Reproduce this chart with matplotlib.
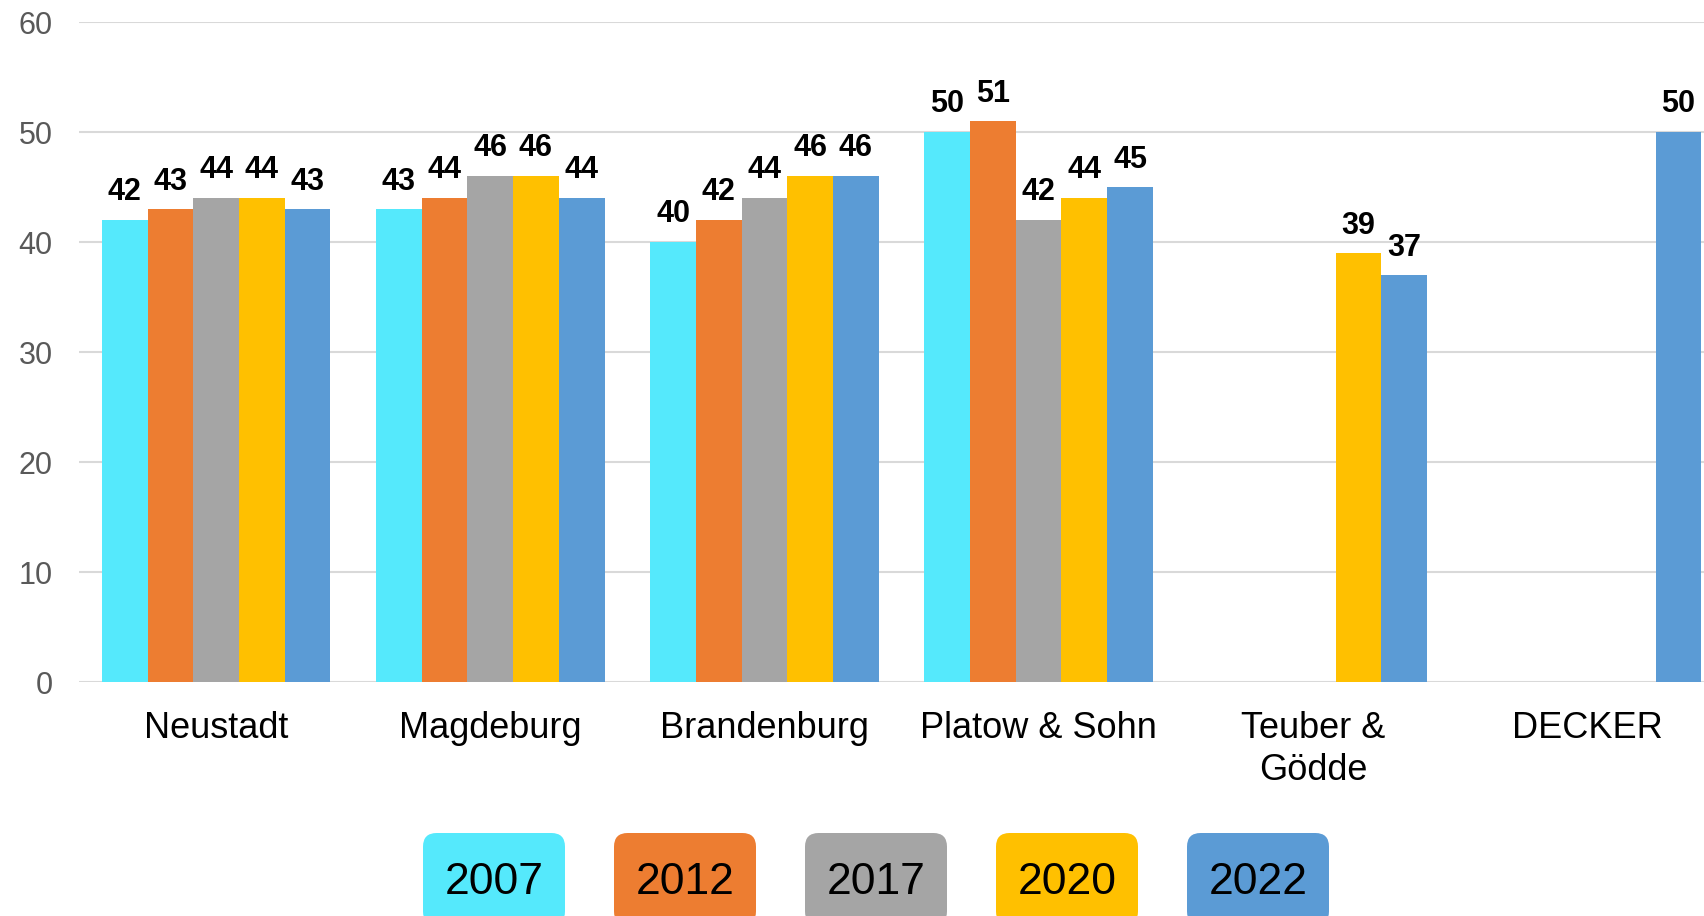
import numpy as np
import matplotlib
matplotlib.use('Agg')
import matplotlib.pyplot as plt
from matplotlib.patches import FancyBboxPatch

# data
companies = ['Neustadt', 'Magdeburg', 'Brandenburg', 'Platow & Sohn',
             'Teuber &\nGödde', 'DECKER']
years = ['2007', '2012', '2017', '2020', '2022']
v2007 = [42, 43, 40, 50, np.nan, np.nan]
v2012 = [43, 44, 42, 51, np.nan, np.nan]
v2017 = [44, 46, 44, 42, np.nan, np.nan]
v2020 = [44, 46, 46, 44, 39, np.nan]
v2022 = [43, 44, 46, 45, 37, 50]
series = [v2007, v2012, v2017, v2020, v2022]
colors = ['#55E9FC', '#ED7D31', '#A5A5A5', '#FFC000', '#5B9BD5']

plt.rcParams['font.family'] = ['Liberation Sans', 'DejaVu Sans']

W, H = 1704, 916
fig = plt.figure(figsize=(W / 100, H / 100), dpi=100)
ax = fig.add_axes([79 / W, (H - 682) / H, 1 - 79 / W, 660 / H])

x = np.arange(len(companies))
bw = 1 / 6
for i, (vals, c) in enumerate(zip(series, colors)):
    bars = ax.bar(x + (i - 2) * bw, vals, width=bw, color=c, zorder=2)
    labels = ['' if np.isnan(v) else '%d' % v for v in vals]
    ax.bar_label(bars, labels=labels, padding=9, fontsize=22,
                 fontweight='bold', color='black')

ax.set_xlim(-0.5, (W - 216) / 274.2)
ax.set_ylim(0, 60)
ax.set_yticks(range(0, 61, 10))
ax.yaxis.grid(True, color='#D9D9D9', linewidth=1.5)
ax.set_axisbelow(True)
for s in ax.spines.values():
    s.set_visible(False)
ax.set_xticks(x)
ax.set_xticklabels(companies, fontsize=26, linespacing=1.27)
ax.tick_params(axis='x', length=0, pad=21)
ax.tick_params(axis='y', length=0, pad=19, labelsize=22, labelcolor='#595959')

# legend boxes
for i, (yr, c) in enumerate(zip(years, colors)):
    cx = 494 + i * 191
    box = FancyBboxPatch(((cx - 71) / W, (H - 925) / H), 142 / W, 92 / H,
                         boxstyle='round,pad=0,rounding_size=0.008',
                         transform=fig.transFigure, facecolor=c,
                         edgecolor='none', mutation_aspect=W / H)
    fig.patches.append(box)
    fig.text(cx / W, (H - 882) / H, yr, ha='center', va='center',
             fontsize=32, color='black')

fig.savefig('out.png', dpi=100)
